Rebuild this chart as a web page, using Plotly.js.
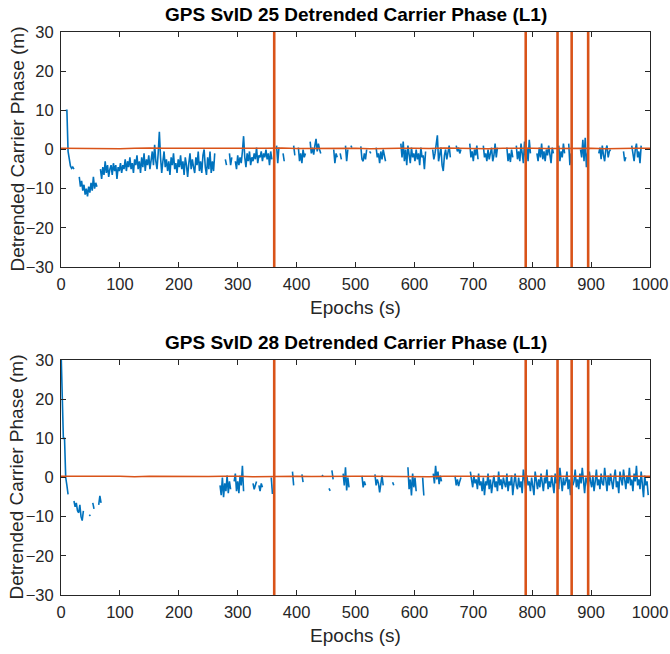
<!DOCTYPE html>
<html><head><meta charset="utf-8">
<script src="https://cdn.plot.ly/plotly-3.0.1.min.js"></script>
<style>html,body{margin:0;padding:0;background:#fff}#chart{width:670px;height:654px}</style>
</head><body><div id="chart"></div>
<script>
// ---- Data (epochs in s, detrended carrier phase in m) ----
// Each blue segment: start epoch, values sampled every 2 s
const sampleStep = 2;
const segStart25 = [8, 31, 67, 279, 286, 296, 366, 377, 395, 403, 423, 463, 474, 483, 492, 509, 524, 535, 577, 631, 671, 694, 717, 757, 773, 808, 845, 862, 882, 913, 955, 969];
const segVals25 = [
  [10, 10, -0.5, -3, -4.2, -4.8, -4.5, -5],
  [-7, -9.5, -8, -10.5, -9, -11.5, -10, -12, -9.5, -11, -8.5, -10.5, -7, -10, -8.5, -9.5],
  [-5, -7.5, -4.5, -6.5, -3, -6, -4, -7, -5, -4, -6.5, -3.5, -5.5, -4, -7.5, -4.5, -5.5,
   -3.5, -6, -4, -5, -2.5, -5.5, -3, -4.5, -2, -5, -3.5, -6, -2.5, -4, -1.5, -5, -3, -6, -2, -4.5, -1, -5.5, -2.5, -4, -1.5,
   -5, -2, -0.5, -4, 1.2, -3, -5, -1, 4.5, -2, -6, -3, -0.5, -4.5, -2.5, -5.5, -3, -6.5, -2, -4, -1, -5, -3.5, -6, -2.5,
   -4.5, -1.5, -5, -3, -6.5, -2, -4, -7, -3.5, -1, -5, -2.5, -4.5, -6, -2, -4, -0.5, -5.5, -3, -6, -1.5, 0, -4.5, -6.5, -2, -5, -0.5, -6, -3, -5.5, -1],
  [-2.5, -4],
  [-1, -4, -2],
  [-3, -5, -1.5, -4, -2, -3.5, -0.5, 3.4, -2, -4.5, -1, -3, -0.5, -4, -2, -3, -1, -2.5, 0.5, -3.5, -1.5, -2, -0.5, -3, -1, -2, 0, -2.5, -1, -4, -0.5, -2.5],
  [1, -3.5, 0.5],
  [-1, -3],
  [1, -1.5],
  [0.5, -3, -1, -3.5, 0, -2, -1],
  [2, -1, 0.5, -1.3, 1, 2.7, -0.5, 1.5, 0, -1],
  [0, -3.5, -1, -2],
  [-1, -2.5],
  [1, -3, 0],
  [1, 0.5],
  [0.8, -2.5, -3, -1, -2.5, 0],
  [-0.5, -1],
  [0.5, -2, -1, -3.5, -0.5, -2.5, 0, -1.5, -3],
  [1.5, -2, 2, -3, 0, -4, 1, -1.5, -3.5, 0.5, -2, -1, -3, 0, -2.5, -1, -4, 0.5, -2, -1.5, -5, -0.5],
  [0, -2.5, -1, 1, 3.6, -3, -1, 0.5, -4, -5.5, -1.5, 0, -2.5, -1, 1, -2],
  [1, -0.5, 0.5, -1, 0],
  [1.5, -2, -0.5, -3, 0, -1.5, 1, -2.5],
  [1, -2, -1, -3, 0, -2.5, -1, 0.5, -3, -1.5, 1.5, -2, 0.5],
  [0.5, -3, -1, -3.2, 0, -2],
  [1, -2.5, -0.5, -3, 1.5, -1, -3.5, 2, -2, 0.5, -3, 2.5, -1],
  [-1, -3, 0.5, -2, 1.5, -2.5, -0.5, -3, 0, -1.5, 1, -2, -3.5, 0.5, -1],
  [1, -3, -0.5, -2, 1.5, -1],
  [1.5, -4, -1],
  [0, -2, 2.5, -3, 3, -4.5, -1, 0.5],
  [-1, 0.5, -2.5, 1, -1.5, -3, 0, 1, -2, -0.5, 0],
  [-0.5, -3, -2],
  [1, -1.5, -3, 0, 1.5, -2, -0.5, -3.5, 1]
];

const segStart28 = [0, 22, 48, 54, 64, 270, 294, 326, 336, 357, 393, 409, 443, 455, 460, 479, 511, 533, 563, 589, 614, 632, 669, 695];
const segVals28 = [
  [33, 21, 10, 10, 0, -2, -4.3],
  [-6, -7.5, -6.5, -8.5, -9, -7, -10, -11, -8.5],
  [-9.5, -9.8],
  [-6.5, -8],
  [-7, -4.7, -6.5],
  [-2, -4.5, 0, -5, -1.5, -3.5, 0.5, -4, -1, -3],
  [-1, 1, -3.5, -1, -4, 0.5, -2, 3, -3.5],
  [-1.5, -3, -2, -1],
  [-2, -3.5, -1.5, -2.5],
  [0, -4.2],
  [1.5, -2],
  [0.8, -1.2],
  [0.3, 0.6],
  [-2.8, -3.4],
  [1.8, -0.5],
  [1, -2, 2.6, -3.3, 0, -2.5],
  [0.4, -2.5, -1, -2],
  [0.8, -2, -0.5, -1.5, -3.8, -1, 0.5, -2],
  [-1.2, -2],
  [2.6, -3, -0.5, -4.6, 1, -2.5, 0, -3.5],
  [0, -4.6],
  [1, -1.5, 3, -0.5, 1.5, -1.7, 0.5, -1],
  [0.4, -2, -0.5, -2.2, -1, 0],
  [1.5, -1, -2.5, 0.5, -1.5, -0.5, -3, 1, -2, -1,
   -3.5, 0, -4.5, -1, -2, 1, -3, -0.5, -4, -1.5,
   0.5, -2.5, -1, -3.5, 1.5, -2, -0.5, -3, 0, -1.5,
   -2.5, 1, -3.5, -1, -2, 0.5, -4.5, -1.5, 1, -2,
   -3, 0, -2.5, -1, -4, 2, -1.5, -3, 0.5, -2,
   -1, -3.5, 0, -2, -4.5, 1.5, -1, -3, -0.5, -2.5,
   1, -2, -3.5, 0, -1.5, 2, -3, -1, -2.5, 0.5,
   -2, -4, 1, -1.5, -0.5, -3, 2.5, -1, -3.5, 0,
   -2, -1, 1.5, -3, -0.5, -4.5, 0.5, -2, -1, 2,
   -2.5, -0.5, -3, 1, -1.5, 2.5, -2, -4, 0, -1,
   -3, 1.5, -1, -2.5, 0.5, -3.5, -1, 2, -2, -0.5,
   -3, 1, -1.5, -2, 2.5, -1, -3.5, 0.5, -2, 1,
   -1, -3, 0, 2, -2.5, -1, -4, 1.5, -0.5, -2,
   2, -1, -3, 0.5, -1.5, 2.5, -2, -0.5, -3.5, 1,
   -1, 3, -2, -0.5, -3, 1.5, -1.5, -5, 0.5, -2,
   -1, -4.5]
];

// Reference (orange) level, one value every 25 s from 0 to 1000
const refStep = 25;
const ref25 = [0.3,0.25,0.35,0.3,0.2,0.3,0.4,0.3,0.25,0.3,0.35,0.3,0.2,0.3,0.3,0.4,0.25,0.3,0.35,0.3,0.3,0.2,0.3,0.35,0.3,0.25,0.4,0.3,0.3,0.2,0.3,0.35,0.3,0.25,0.3,0.4,0.3,0.2,0.3,0.35,0.3];
const ref28 = [0.3,0.35,0.25,0.3,0.3,0.2,0.35,0.3,0.4,0.3,0.25,0.3,0.35,0.2,0.3,0.3,0.35,0.25,0.3,0.4,0.3,0.3,0.25,0.35,0.3,0.2,0.3,0.35,0.3,0.25,0.4,0.3,0.3,0.2,0.35,0.3,0.25,0.3,0.35,0.3,0.3];

// Cycle-slip epochs (vertical orange lines)
const slipEpochs = [362, 789, 843, 867, 895];
const yLimits = [-30, 30];
const xLimits = [0, 1000];
const titles = ['GPS SvID 25 Detrended Carrier Phase (L1)', 'GPS SvID 28 Detrended Carrier Phase (L1)'];
const xLabel = 'Epochs (s)';
const yLabel = 'Detrended Carrier Phase (m)';
const xTickVals = [0,100,200,300,400,500,600,700,800,900,1000];
const yTickVals = [-30,-20,-10,0,10,20,30];

// ---- Build traces ----
function buildSegments(starts, vals) {
  const x = [], y = [];
  starts.forEach((s, i) => {
    vals[i].forEach((v, j) => { x.push(s + j * sampleStep); y.push(v); });
    x.push(null); y.push(null);
  });
  return {x, y};
}
function buildRef(vals) {
  return {x: vals.map((_, i) => i * refStep), y: vals};
}
function buildSlips() {
  const x = [], y = [];
  slipEpochs.forEach(e => { x.push(e, e, null); y.push(yLimits[0], yLimits[1], null); });
  return {x, y};
}

const BLUE = '#0072BD', ORANGE = '#D95319';
const traces = [];
[[segStart25, segVals25, ref25, 'x', 'y'], [segStart28, segVals28, ref28, 'x2', 'y2']].forEach(([st, va, rf, xa, ya]) => {
  const b = buildSegments(st, va);
  traces.push({x: b.x, y: b.y, xaxis: xa, yaxis: ya, type: 'scatter', mode: 'lines', line: {color: BLUE, width: 1.6}, connectgaps: false, hoverinfo: 'skip'});
  const r = buildRef(rf);
  traces.push({x: r.x, y: r.y, xaxis: xa, yaxis: ya, type: 'scatter', mode: 'lines', line: {color: ORANGE, width: 1.5}, hoverinfo: 'skip'});
  const s = buildSlips();
  traces.push({x: s.x, y: s.y, xaxis: xa, yaxis: ya, type: 'scatter', mode: 'lines', line: {color: ORANGE, width: 2.6}, connectgaps: false, hoverinfo: 'skip'});
});

const FONT = 'Liberation Sans, Arial, Helvetica, sans-serif';
const AX = '#262626';
function xAxis(anchor) {
  return {anchor: anchor, range: xLimits, tickvals: xTickVals, ticks: 'inside', ticklen: 5, tickcolor: AX,
    showline: true, linecolor: AX, linewidth: 1, mirror: 'ticks', showgrid: false, zeroline: false,
    ticklabelstandoff: 2,
    tickfont: {family: FONT, size: 16.5, color: AX},
    title: {text: xLabel, font: {family: FONT, size: 19, color: AX}, standoff: 8}};
}
function yAxis(anchor, domain) {
  return {anchor: anchor, domain: domain, range: yLimits, tickvals: yTickVals, ticks: 'inside', ticklen: 5, tickcolor: AX,
    showline: true, linecolor: AX, linewidth: 1, mirror: 'ticks', showgrid: false, zeroline: false,
    ticklabelstandoff: 3,
    tickfont: {family: FONT, size: 16.5, color: AX}};
}

const annotations = [];
titles.forEach((t, i) => {
  const xr = (i ? 'x2' : 'x') + ' domain', yr = (i ? 'y2' : 'y') + ' domain';
  annotations.push({
    text: '<b>' + t + '</b>', xref: xr, yref: yr,
    x: 0.5, y: 1, xanchor: 'center', yanchor: 'bottom', yshift: 5, showarrow: false,
    font: {family: FONT, size: 19, color: '#000'}
  });
  annotations.push({
    text: yLabel, xref: 'paper', yref: yr, x: 0, y: 0.5, xanchor: 'center', yanchor: 'middle',
    xshift: -44, textangle: -90, showarrow: false,
    font: {family: FONT, size: 19, color: AX}
  });
});

const layout = {
  width: 670, height: 654,
  margin: {l: 61, r: 20, t: 32, b: 59},
  paper_bgcolor: '#fff', plot_bgcolor: '#fff',
  showlegend: false,
  xaxis: xAxis('y'), yaxis: yAxis('x', [0.5826, 1]),
  xaxis2: xAxis('y2'), yaxis2: yAxis('x2', [0, 0.4174]),
  annotations: annotations
};

Plotly.newPlot('chart', traces, layout, {staticPlot: true, displayModeBar: false});
</script></body></html>
